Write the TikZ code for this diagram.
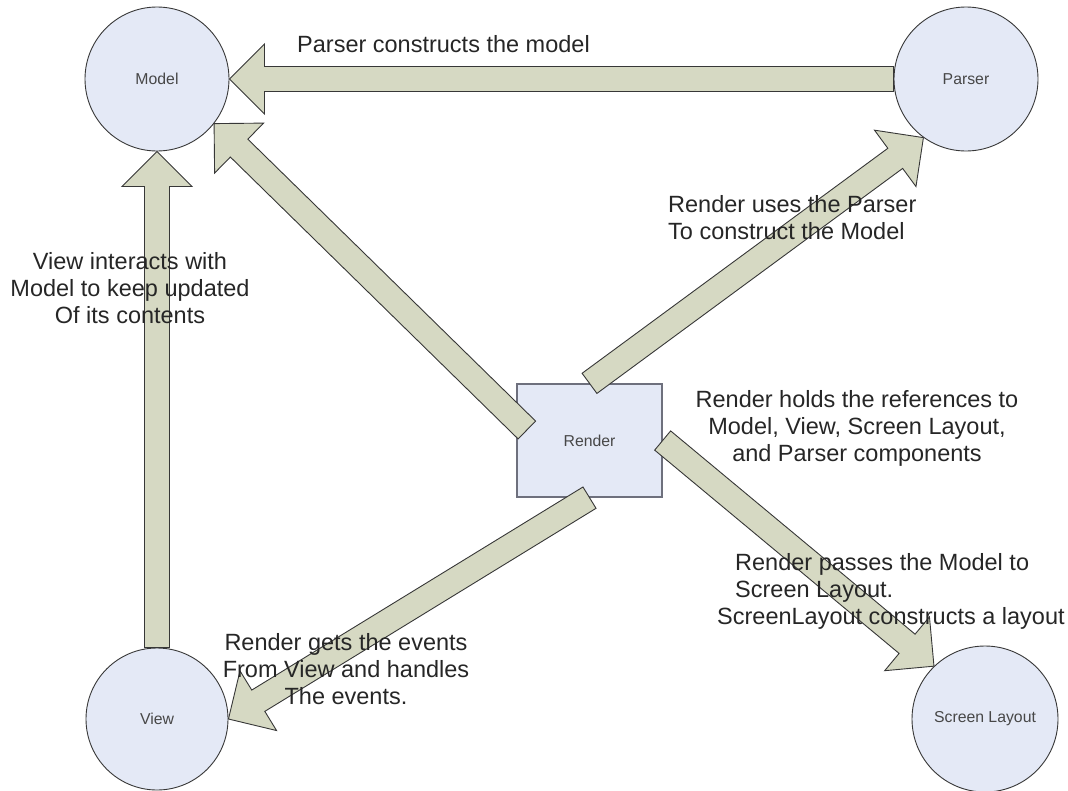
\documentclass[tikz,border=0pt]{standalone}
\usepackage{fontspec}
\setmainfont{Liberation Sans}
\usetikzlibrary{calc,backgrounds}

\definecolor{bubble}{RGB}{228,233,246}
\definecolor{arrowfill}{RGB}{214,217,195}
\definecolor{inkline}{RGB}{55,55,55}
\definecolor{boxline}{RGB}{110,112,125}
\definecolor{labeltext}{RGB}{38,38,38}

% Broad block arrow from #1 (tail) to #2 (tip)
\newcommand\blockarrow[2]{%
  \path[blockarrow] let \p1=($(#2)-(#1)$), \n1={atan2(\y1,\x1)} in
    ($(#1)+(\n1+90:12.5pt)$)
    -- ($(#2)+(\n1+180:35pt)+(\n1+90:12.5pt)$)
    -- ($(#2)+(\n1+180:35pt)+(\n1+90:35pt)$)
    -- (#2)
    -- ($(#2)+(\n1+180:35pt)+(\n1-90:35pt)$)
    -- ($(#2)+(\n1+180:35pt)+(\n1-90:12.5pt)$)
    -- ($(#1)+(\n1-90:12.5pt)$)
    -- cycle;%
}

\begin{document}
\begin{tikzpicture}[x=1pt,y=-1pt,
  comp/.style={circle, draw=inkline, line width=0.9pt, fill=bubble,
    minimum size=144pt, inner sep=0pt,
    font=\fontsize{15.8}{19}\selectfont, text=black!72},
  renderbox/.style={rectangle, draw=boxline, line width=1.3pt, fill=bubble,
    minimum width=145pt, minimum height=113pt, inner sep=0pt,
    font=\fontsize{15.8}{19}\selectfont, text=black!72},
  blockarrow/.style={draw=inkline, line width=0.9pt, fill=arrowfill, line join=miter},
  note/.style={font=\fontsize{23.5}{27}\selectfont, text=labeltext,
    inner sep=0pt, align=center},
]
\useasboundingbox (0,0) rectangle (1068,790);

% components
\node[comp] (model) at (157,79) {Model};
\node[comp] (parser) at (966,79) {Parser};
\node[comp, minimum size=142pt] (view) at (157,719) {View};
\node[comp, minimum size=146pt] (screen) at (985,719) {Screen Layout};

\begin{pgfonlayer}{background}
  \node[renderbox] (render) at (589.5,440.5) {Render};
  \coordinate (render-nw) at ($(render.west)+(10.5,-10.5)$);
  \blockarrow{parser.west}{model.east}
  \blockarrow{view.north}{model.south}
  \blockarrow{render-nw}{model.-38}
  \blockarrow{render.north}{parser.234}
  \blockarrow{render.south}{view.0}
  \blockarrow{render.east}{screen.134}
\end{pgfonlayer}

% annotations
\node[note, anchor=north west, align=left] (t-parse) at (297,35) {Parser constructs the model};
\node[note, anchor=north west, align=left] (t-uses) at (668,195) {Render uses the Parser\\To construct the Model};
\node[note, anchor=north] (t-view) at (130,252) {View interacts with\\Model to keep updated\\Of its contents};
\node[note, anchor=north] (t-holds) at (857,390.5) {Render holds the references to\\Model, View, Screen Layout,\\and Parser components};
\node[note, anchor=north west, align=left] (t-passes) at (717,553) {\hspace*{18pt}Render passes the Model to\\\hspace*{18pt}Screen Layout.\\ScreenLayout constructs a layout};
\node[note, anchor=north] (t-events) at (346,633) {Render gets the events\\From View and handles\\The events.};
\end{tikzpicture}
\end{document}
